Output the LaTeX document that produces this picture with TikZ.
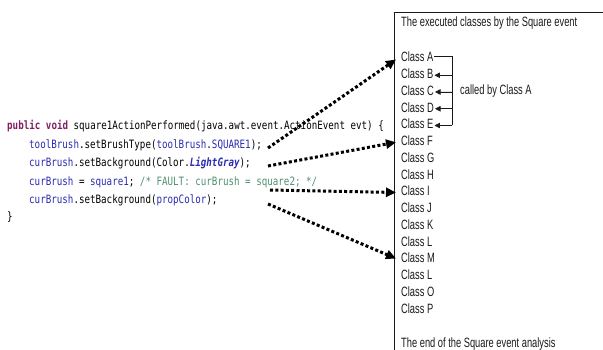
\documentclass[tikz,border=0pt]{standalone}
\usepackage{fontspec}
\usetikzlibrary{arrows.meta,calc}
\newfontfamily\codefont[FakeStretch=0.8]{DejaVu Sans Mono}
\newfontfamily\panelfont[FakeStretch=0.69]{Liberation Sans}
\definecolor{kw}{HTML}{7F1F5F}
\definecolor{fld}{HTML}{2A2AB0}
\definecolor{cmt}{HTML}{4F8F70}
\definecolor{ink}{HTML}{1A1A1A}
\begin{document}
\begin{tikzpicture}[x=1pt,y=-1pt,
  code/.style={anchor=west, inner sep=0pt, text=black,
    font=\codefont\fontsize{11.5}{13}\selectfont, text height=8.5pt, text depth=2.5pt},
  cls/.style={anchor=west, inner xsep=1pt, inner ysep=0pt, text=ink,
    font=\panelfont\fontsize{13.5}{15}\selectfont, text height=9.7pt, text depth=2.8pt},
  trace/.style={line width=3pt, dash pattern=on 3pt off 2.3pt,
    -{Triangle[length=10pt,width=9pt]}},
  call/.style={line width=0.8pt, -{Triangle[length=5.5pt,width=5.5pt]}},
  frame/.style={line width=0.9pt, draw=ink}]
\useasboundingbox (0,0) rectangle (603,350);

% source listing
\node[code] (l0) at (7,127)   {{\bfseries\color{kw}public void} square1ActionPerformed(java.awt.event.ActionEvent evt) \{};
\node[code] (l1) at (29,145.5) {\textcolor{fld}{toolBrush}.setBrushType(\textcolor{fld}{toolBrush}.\textcolor{fld}{SQUARE1});};
\node[code] (l2) at (29,164)  {\textcolor{fld}{curBrush}.setBackground(Color.\textcolor{fld}{\bfseries\itshape LightGray});};
\node[code] (l3) at (29,182.5) {\textcolor{fld}{curBrush} = \textcolor{fld}{square1}; \textcolor{cmt}{/* FAULT: curBrush = square2; */}};
\node[code] (l4) at (29,201)  {\textcolor{fld}{curBrush}.setBackground(\textcolor{fld}{propColor});};
\node[code] (l5) at (7,218)   {\}};

% panel of executed classes
\draw[frame] (394,350) -- (394,12) -- (603,12);
\node[cls] (title) at (400,23) {The executed classes by the Square event};
\foreach \n/\c in {1/A,2/B,3/C,4/D,5/E,6/F,7/G,8/H,9/I,10/J,11/K,12/L,13/M,14/L,15/O,16/P}
  \node[cls] (c\n) at (400,{58.5+16.75*(\n-1)}) {Class \c};
\node[cls] (endtxt) at (400,344) {The end of the Square event analysis};

% classes called by Class A
\coordinate (bx) at (452,0);
\draw[line width=0.8pt, draw=ink] ($(c1.east)+(0,-2)$) -- ($(c1.east -| bx)+(0,-2)$) -- (c5.east -| bx);
\foreach \n in {2,3,4,5}
  \draw[call, draw=ink, fill=ink] (c\n.east -| bx) -- (c\n.east);
\node[cls] (calledby) at (459,91.5) {called by Class A};

% statements traced to classes
\coordinate (s1) at (268,148);
\coordinate (s2) at (268,166);
\coordinate (s3) at (270,190);
\coordinate (s4) at (268,204);
\draw[trace] (s1) -- ($(c1.west)+(-4,1)$);
\draw[trace] (s2) -- ($(c6.west)+(-4,0)$);
\draw[trace] (s3) -- ($(c9.west)+(-4,0)$);
\draw[trace] (s4) -- ($(c13.west)+(-4,-1)$);
\end{tikzpicture}
\end{document}
